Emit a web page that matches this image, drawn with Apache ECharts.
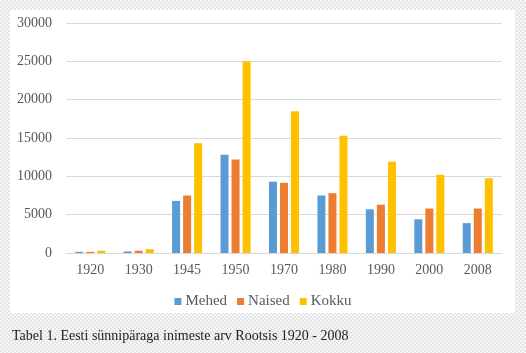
<!DOCTYPE html>
<html>
<head>
<meta charset="utf-8">
<script src="https://cdn.jsdelivr.net/npm/echarts@6/dist/echarts.min.js"></script>
<style>
  html, body {
    margin: 0;
    padding: 0;
  }
  body {
    width: 526px;
    height: 353px;
    background-color: #f7f7f7;
    background-image: repeating-conic-gradient(#e4e4e4 0 25%, #f7f7f7 0 50%);
    background-size: 4px 4px;
  }
  #chart {
    width: 526px;
    height: 353px;
  }
</style>
</head>
<body>
<div id="chart"></div>
<script>
// aastad
const years = ['1920', '1930', '1945', '1950', '1970', '1980', '1990', '2000', '2008']

// väärtused loetud pildilt
const mehed = [150, 200, 6800, 12800, 9300, 7500, 5700, 4400, 3900]
const naised = [150, 300, 7500, 12200, 9150, 7800, 6300, 5800, 5800]
const kokku = [300, 500, 14300, 25000, 18500, 15300, 11900, 10200, 9750]

const seriesNames = ['Mehed', 'Naised', 'Kokku']
const colors = ['#5b9bd5', '#ed7d31', '#ffc000']

const caption = 'Tabel 1. Eesti sünnipäraga inimeste arv Rootsis 1920 - 2008'

const font = '"Liberation Serif", "DejaVu Serif", serif'

const chart = echarts.init(document.getElementById('chart'))

const makeBar = (name, data, i) => ({
  name: name,
  type: 'bar',
  data: data,
  barWidth: 8,
  barGap: '38%',
  itemStyle: { color: colors[i] }
})

chart.setOption({
  animation: false,
  backgroundColor: 'transparent',
  textStyle: { fontFamily: font },
  graphic: [
    {
      type: 'rect',
      z: -10,
      shape: { x: 10, y: 10, width: 505, height: 303 },
      style: { fill: '#ffffff' },
      silent: true
    }
  ],
  title: {
    text: caption,
    left: 7,
    top: 324,
    textStyle: {
      fontFamily: font,
      fontSize: 14,
      fontWeight: 'normal',
      color: '#222222'
    }
  },
  legend: {
    data: seriesNames,
    left: 'center',
    top: 289,
    itemWidth: 7,
    itemHeight: 7,
    itemGap: 10,
    icon: 'rect',
    textStyle: {
      fontFamily: font,
      fontSize: 15,
      color: '#595959',
      padding: [0, 0, 0, -1]
    }
  },
  grid: {
    left: 66,
    right: 24,
    top: 23,
    bottom: 100,
    containLabel: false
  },
  xAxis: {
    type: 'category',
    data: years,
    axisLine: { lineStyle: { color: '#d9d9d9' } },
    axisTick: { show: false },
    axisLabel: {
      fontFamily: font,
      fontSize: 14,
      color: '#595959',
      margin: 10
    }
  },
  yAxis: {
    type: 'value',
    min: 0,
    max: 30000,
    interval: 5000,
    axisLine: { show: false },
    axisTick: { show: false },
    splitLine: { lineStyle: { color: '#d9d9d9' } },
    axisLabel: {
      fontFamily: font,
      fontSize: 14,
      color: '#595959',
      margin: 14,
      formatter: (v) => String(v)
    }
  },
  series: [
    makeBar(seriesNames[0], mehed, 0),
    makeBar(seriesNames[1], naised, 1),
    makeBar(seriesNames[2], kokku, 2)
  ]
})
</script>
</body>
</html>
